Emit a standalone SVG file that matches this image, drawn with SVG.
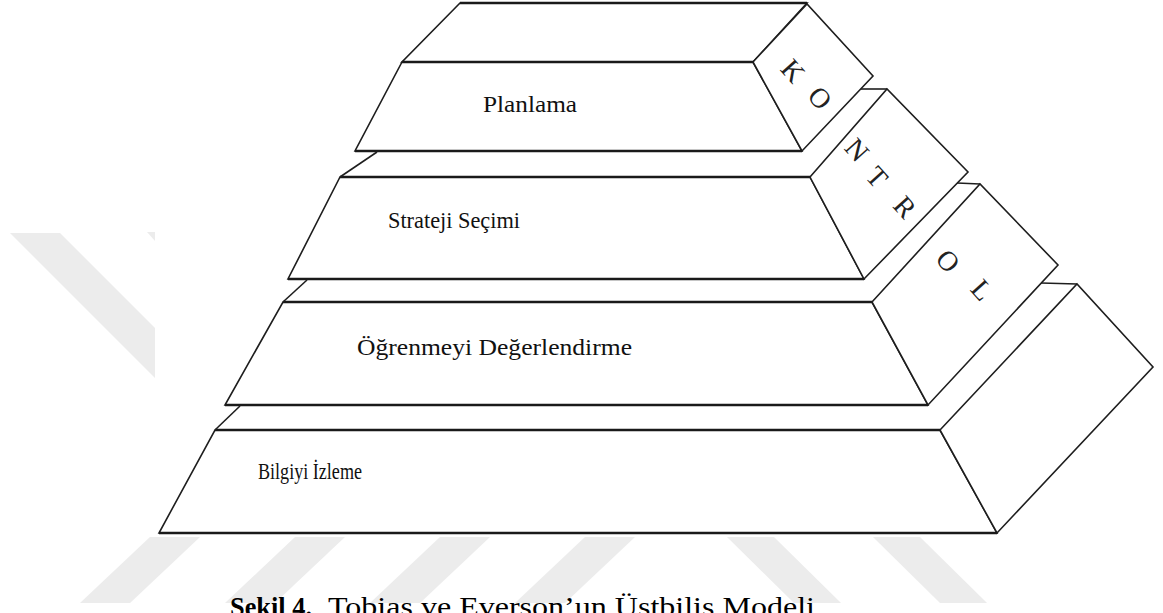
<svg xmlns="http://www.w3.org/2000/svg" width="1163" height="613" viewBox="0 0 1163 613">
<style>
.wm{fill:#ececec;stroke:none}
.face{fill:#ffffff;stroke:#1e1e1e;stroke-width:1.6;stroke-linejoin:miter}
.hl{stroke:#1a1a1a;stroke-width:2.4;fill:none}
.ln{stroke:#1e1e1e;stroke-width:1.6;fill:none}
.lbl{font-family:"Liberation Serif","Times New Roman",serif;font-size:24px;fill:#111}
.kl{font-family:"Liberation Serif","Times New Roman",serif;font-size:28px;fill:#222;text-anchor:middle;dominant-baseline:central}
.cap{font-family:"Liberation Serif","Times New Roman",serif;font-size:27px;fill:#000}
</style>
<rect width="1163" height="613" fill="#ffffff"/>
<g id="watermark">
<polygon class="wm" points="10,233 60,233 155,328 155,378"/>
<polygon class="wm" points="147,232 155,232 155,241"/>
<polygon class="wm" points="150,537 200,537 130,603 80,603"/>
<polygon class="wm" points="295,537 345,537 275,603 225,603"/>
<polygon class="wm" points="440,537 490,537 420,603 370,603"/>
<polygon class="wm" points="585,537 635,537 565,603 515,603"/>
<polygon class="wm" points="727,537 774,537 841,603 794,603"/>
<polygon class="wm" points="873,537 920,537 987,603 940,603"/>
</g>
<rect x="155" y="0" width="1008" height="537" fill="#ffffff"/>
<g id="roof"><polygon class="face" points="460,3 807,3 753,62 402,62"/></g>
<g id="planlama">
<polygon class="face" points="402,62 753,62 802,151 355,151"/>
<text class="lbl" x="483" y="112" textLength="94" lengthAdjust="spacingAndGlyphs">Planlama</text>
</g>
<g id="kontrol-ko">
<polygon class="face" points="753,62 807,4 873,76 802,151"/>
<text class="kl" transform="translate(793,71) rotate(48)">K</text>
<text class="kl" transform="translate(820,98) rotate(48)">O</text>
</g>
<g id="strateji">
<polygon class="face" points="340,177 810,177 864,279 288,279"/>
<text class="lbl" x="388" y="228" textLength="132" lengthAdjust="spacingAndGlyphs">Strateji Seçimi</text>
</g>
<g id="kontrol-ntr">
<polygon class="face" points="810,177 887,89 968,172 864,279"/>
<text class="kl" transform="translate(857,150) rotate(48)">N</text>
<text class="kl" transform="translate(877,177) rotate(48)">T</text>
<text class="kl" transform="translate(905,207) rotate(48)">R</text>
</g>
<g id="ogrenme">
<polygon class="face" points="283,302 872,302 928,405 225,405"/>
<text class="lbl" x="357" y="355" textLength="275" lengthAdjust="spacingAndGlyphs">Öğrenmeyi Değerlendirme</text>
</g>
<g id="kontrol-ol">
<polygon class="face" points="872,302 980,184 1058,265 928,405"/>
<text class="kl" transform="translate(948,261) rotate(48)">O</text>
<text class="kl" transform="translate(982,290) rotate(48)">L</text>
</g>
<g id="bilgi">
<polygon class="face" points="215,430 940,430 997,533 159,533"/>
<text class="lbl" x="258" y="479" textLength="104" lengthAdjust="spacingAndGlyphs">Bilgiyi İzleme</text>
</g>
<g id="side-base"><polygon class="face" points="940,430 1077,284 1153,367 997,533"/></g>
<g id="connectors">
<line class="hl" x1="460" y1="3" x2="807" y2="3"/>
<line class="hl" x1="402" y1="62" x2="753" y2="62"/>
<line class="hl" x1="355" y1="151" x2="802" y2="151"/>
<line class="hl" x1="340" y1="177" x2="810" y2="177"/>
<line class="hl" x1="288" y1="279" x2="864" y2="279"/>
<line class="hl" x1="283" y1="302" x2="872" y2="302"/>
<line class="hl" x1="225" y1="405" x2="928" y2="405"/>
<line class="hl" x1="215" y1="430" x2="940" y2="430"/>
<line class="hl" x1="159" y1="533" x2="997" y2="533"/>
<line class="ln" x1="377" y1="152" x2="340" y2="177"/>
<line class="ln" x1="307" y1="280" x2="283" y2="302"/>
<line class="ln" x1="240" y1="406" x2="215" y2="430"/>
<line class="ln" x1="861" y1="89" x2="887" y2="89"/>
<line class="ln" x1="957" y1="183" x2="980" y2="184"/>
<line class="ln" x1="1041" y1="283" x2="1077" y2="284"/>
</g>
<g id="caption">
<text class="cap" x="230" y="616" font-weight="bold" textLength="82" lengthAdjust="spacingAndGlyphs">Şekil 4.</text>
<text class="cap" x="328" y="616" textLength="487" lengthAdjust="spacingAndGlyphs">Tobias ve Everson’un Üstbiliş Modeli</text>
</g>
</svg>
